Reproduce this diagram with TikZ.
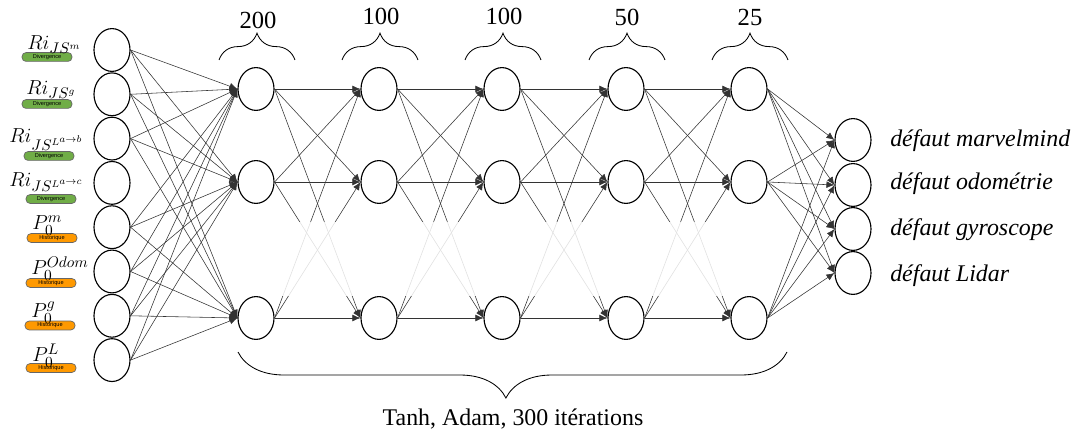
\documentclass[tikz,border=0pt]{standalone}
\usepackage{fontspec}
\setmainfont{Liberation Serif}
\newfontfamily\tagfont{Liberation Sans}
\usetikzlibrary{arrows.meta,shapes.geometric,decorations.pathreplacing}
\definecolor{divgreen}{RGB}{112,173,71}
\definecolor{historange}{RGB}{255,153,0}
\tikzset{
  neuron/.style={
    ellipse,
    draw,
    line width=0.8pt,
    minimum width=0.9cm,
    minimum height=1.07cm,
    inner sep=0pt
  },
  synapse/.style={-{Latex[length=2mm,width=1.7mm]},draw=black!80,line width=0.4pt},
  tagbox/.style={
    draw=black!60,
    line width=0.5pt,
    rounded corners=0.1cm,
    minimum width=1.25cm,
    minimum height=0.22cm,
    inner sep=0pt,
    font=\tagfont\fontsize{4}{4}\selectfont
  },
  inlabel/.style={anchor=base west,inner sep=0pt,font=\fontsize{15}{17}\selectfont},
  outlabel/.style={anchor=base west,inner sep=0pt,font=\fontsize{17}{20}\selectfont\itshape},
  layerbrace/.style={decorate,decoration={brace,amplitude=0.67cm},line width=0.6pt},
  count/.style={font=\fontsize{17.5}{20}\selectfont}
}

\begin{document}
\begin{tikzpicture}[x=0.025cm,y=-0.025cm]
\useasboundingbox (0,0) rectangle (1080,432);

% neurons
\foreach \i/\y in {1/50,2/94.3,3/138.6,4/182.9,5/227.2,6/271.5,7/315.8,8/360.1}
  \node[neuron] (in\i) at (112,\y) {};
\foreach \l/\x in {1/256,2/379,3/502,4/626,5/749}
  \foreach \r/\y in {1/89,2/182,3/318}
    \node[neuron] (h\l\r) at (\x,\y) {};
\foreach \o/\y in {1/140,2/185,3/229,4/273}
  \node[neuron] (out\o) at (853,\y) {};

% connections
\foreach \i in {1,2,3,5,6,7,8}
  \foreach \r in {1,2,3}
    \draw[synapse] (in\i.east) -- (h1\r.west);
\foreach \l/\n in {1/2,2/3,3/4,4/5}
  \foreach \a in {1,2,3}
    \foreach \b in {1,2,3}
      \draw[synapse] (h\l\a.east) -- (h\n\b.west);
\foreach \a in {1,2,3}
  \foreach \o in {1,2,3,4}
    \draw[synapse] (h5\a.east) -- (out\o.west);

% faded band (hidden neurons)
\fill[white,fill opacity=0.85] (277,222) rectangle (728,296);

% input tags and labels
\node[tagbox,fill=divgreen] (tag1) at (47,57) {Divergence};
\node[tagbox,fill=divgreen] (tag2) at (47,104) {Divergence};
\node[tagbox,fill=divgreen] (tag3) at (49,156) {Divergence};
\node[tagbox,fill=divgreen] (tag4) at (51,199) {Divergence};
\node[tagbox,fill=historange] (tag5) at (52,238) {Historique};
\node[tagbox,fill=historange] (tag6) at (51,283) {Historique};
\node[tagbox,fill=historange] (tag7) at (50,325.5) {Historique};
\node[tagbox,fill=historange] (tag8) at (51,368) {Historique};

\node[inlabel] (lab1) at (27,50) {$Ri_{JS^m}$};
\node[inlabel] (lab2) at (26,95) {$Ri_{JS^g}$};
\node[inlabel] (lab3) at (9,143) {$Ri_{JS^{L^{a\to b}}}$};
\node[inlabel] (lab4) at (9,187) {$Ri_{JS^{L^{a\to c}}}$};
\node[inlabel] (lab5) at (32,230) {$P_0^m$};
\node[inlabel] (lab6) at (31,275) {$P_0^{Odom}$};
\node[inlabel] (lab7) at (31,318) {$P_0^g$};
\node[inlabel] (lab8) at (32,362) {$P_0^L$};

% output labels
\node[outlabel] (fault1) at (890,147) {défaut marvelmind};
\node[outlabel] (fault2) at (890,190) {défaut odométrie};
\node[outlabel] (fault3) at (890,236) {défaut gyroscope};
\node[outlabel] (fault4) at (890,282) {défaut Lidar};

% layer sizes
\draw[layerbrace] (219,60) -- (295,60);
\draw[layerbrace] (342,60) -- (418,60);
\draw[layerbrace] (465,60) -- (541,60);
\draw[layerbrace] (589,60) -- (665,60);
\draw[layerbrace] (712,60) -- (788,60);
\node[count] (n1) at (258,20) {200};
\node[count] (n2) at (381,16) {100};
\node[count] (n3) at (504,16) {100};
\node[count] (n4) at (627,17) {50};
\node[count] (n5) at (750,17) {25};

% training setup
\draw[layerbrace,decoration={brace,mirror,amplitude=1.15cm,aspect=0.488}] (238,352) -- (787,352);
\node[font=\fontsize{17}{20}\selectfont] (train) at (513,419) {Tanh, Adam, 300 itérations};

\end{tikzpicture}
\end{document}
